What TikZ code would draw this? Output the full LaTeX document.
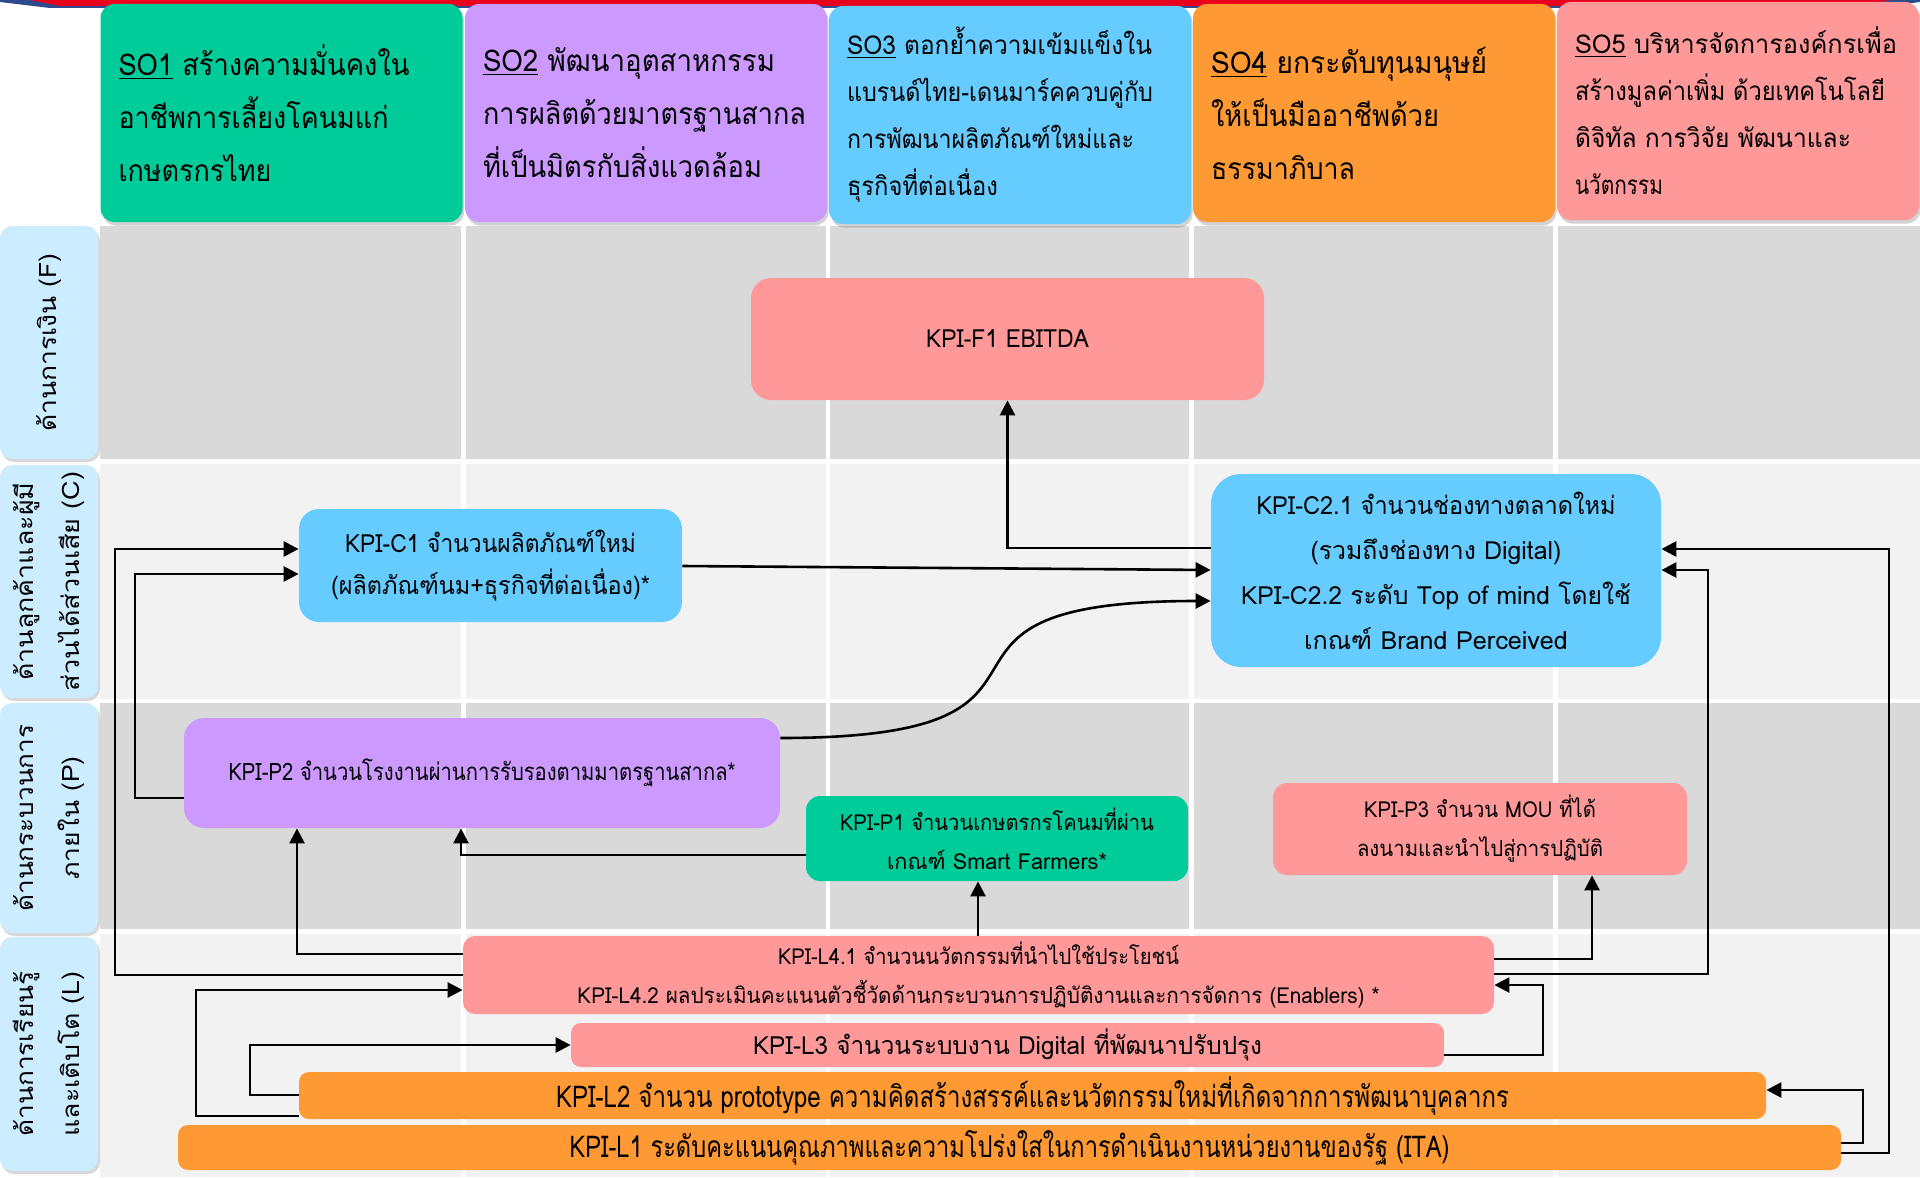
\documentclass[tikz,border=0pt]{standalone}
\usepackage{fontspec}
\setmainfont[Script=Thai]{Loma}
\usepackage{graphicx}
\usetikzlibrary{shadows,arrows.meta}
\newcommand\fitw[2]{\resizebox{#1pt}{\height}{#2}}
\definecolor{cgreen}{HTML}{00CC99}
\definecolor{cviolet}{HTML}{CC99FF}
\definecolor{cblue}{HTML}{66CCFF}
\definecolor{corange}{HTML}{FF9933}
\definecolor{cpink}{HTML}{FF9999}
\definecolor{clabel}{HTML}{CCECFF}
\definecolor{gdark}{HTML}{D9D9D9}
\definecolor{glight}{HTML}{F2F2F2}
\definecolor{barred}{HTML}{E8001C}
\definecolor{barblue}{HTML}{2E4A8C}
\begin{document}
\begin{tikzpicture}[x=0.5pt,y=-0.5pt,
  hdr/.style={rounded corners=7pt, minimum height=109pt, text width=163pt, align=left,
    inner xsep=9pt, inner ysep=0pt,
    drop shadow={shadow xshift=0.8pt, shadow yshift=-1.8pt, opacity=0.35}},
  hdrbig/.style={hdr, font=\fontsize{15}{26.5}\selectfont},
  hdrsmall/.style={hdr, font=\fontsize{13}{23.5}\selectfont},
  lbl/.style={fill=clabel, rounded corners=6pt, rotate=90, minimum height=49pt,
    inner sep=0pt, align=center, font=\fontsize{12}{23}\selectfont,
    drop shadow={shadow xshift=1pt, shadow yshift=-1.5pt, opacity=0.3}},
  kpibox/.style={inner sep=0pt, align=center},
  conn/.style={line width=1.3pt, -{Triangle[length=7.5pt,width=7.5pt]}},
]
\useasboundingbox (0,0) rectangle (1920,1177);
\fill[white] (0,0) rectangle (1920,1177);
% top bar
\fill[barblue] (0,0) -- (1920,0) -- (1920,2) -- (1870,8) -- (50,8) -- (0,2) -- cycle;
\fill[barred] (30,0) -- (1890,0) -- (1860,6) -- (60,6) -- cycle;
% grid
\foreach \ya/\yb/\c in {226/459/gdark, 464/699/glight, 703/929/gdark, 934/1177/glight} {
  \foreach \xa/\xb in {100/461, 466/826, 830/1189, 1194/1553, 1558/1920} {
    \fill[\c] (\xa,\ya) rectangle (\xb,\yb);
  }
}
% headers
\node[hdrbig, fill=cgreen] (SO1) at (281.5,113)
  {\fitw{145.5}{\underline{SO1} สร้างความมั่นคงใน}\\\fitw{135}{อาชีพการเลี้ยงโคนมแก่}\\\fitw{76.5}{เกษตรกรไทย}};
\node[hdrbig, fill=cviolet] (SO2) at (646,113)
  {\fitw{146}{\underline{SO2} พัฒนาอุตสาหกรรม}\\\fitw{161.5}{การผลิตด้วยมาตรฐานสากล}\\\fitw{139.5}{ที่เป็นมิตรกับสิ่งแวดล้อม}};
\node[hdrsmall, fill=cblue] (SO3) at (1010,115)
  {\fitw{152.5}{\underline{SO3} ตอกย้ำความเข้มแข็งใน}\\\fitw{153}{แบรนด์ไทย-เดนมาร์คควบคู่กับ}\\\fitw{143.5}{การพัฒนาผลิตภัณฑ์ใหม่และ}\\\fitw{75.5}{ธุรกิจที่ต่อเนื่อง}};
\node[hdrbig, fill=corange] (SO4) at (1374,113)
  {\fitw{138}{\underline{SO4} ยกระดับทุนมนุษย์}\\\fitw{114}{ให้เป็นมืออาชีพด้วย}\\\fitw{72}{ธรรมาภิบาล}};
\node[hdrsmall, fill=cpink] (SO5) at (1738,111)
  {\fitw{161}{\underline{SO5} บริหารจัดการองค์กรเพื่อ}\\\fitw{155}{สร้างมูลค่าเพิ่ม ด้วยเทคโนโลยี}\\\fitw{138}{ดิจิทัล การวิจัย พัฒนาและ}\\\fitw{44}{นวัตกรรม}};
% row labels
\node[lbl, minimum width=116.5pt] (RF) at (49,342.5) {\fitw{89}{ด้านการเงิน (F)}};
\node[lbl, minimum width=116.5pt] (RC) at (49,581.5) {\fitw{99}{ด้านลูกค้าและผู้มี}\\\fitw{110}{ส่วนได้ส่วนเสีย (C)}};
\node[lbl, minimum width=115pt] (RP) at (49,818) {\fitw{93.5}{ด้านกระบวนการ}\\\fitw{61.5}{ภายใน (P)}};
\node[lbl, minimum width=117pt] (RL) at (49,1054) {\fitw{82.5}{ด้านการเรียนรู้}\\\fitw{82.5}{และเติบโต (L)}};
% KPI nodes
\node[kpibox, fill=cpink, rounded corners=10pt, minimum width=256.5pt, minimum height=61pt,
  font=\fontsize{12.5}{20}\selectfont] (F1) at (1007.5,339) {\fitw{81.5}{KPI-F1 EBITDA}};
\node[kpibox, fill=cblue, rounded corners=10pt, minimum width=191.5pt, minimum height=56.5pt,
  font=\fontsize{12.5}{21}\selectfont] (C1) at (490.5,565.5)
  {\fitw{145.5}{KPI-C1 จำนวนผลิตภัณฑ์ใหม่}\\\fitw{159.5}{(ผลิตภัณฑ์นม+ธุรกิจที่ต่อเนื่อง)*}};
\node[kpibox, fill=cblue, rounded corners=15pt, minimum width=225pt, minimum height=96.5pt,
  font=\fontsize{12.5}{22.5}\selectfont] (C2) at (1436,570.5)
  {\fitw{179.5}{KPI-C2.1 จำนวนช่องทางตลาดใหม่}\\\fitw{125.5}{(รวมถึงช่องทาง Digital)}\\\fitw{195}{KPI-C2.2 ระดับ Top of mind โดยใช้}\\\fitw{132}{เกณฑ์ Brand Perceived}};
\node[kpibox, fill=cviolet, rounded corners=10pt, minimum width=298pt, minimum height=55pt,
  font=\fontsize{12}{20}\selectfont] (P2) at (482,773)
  {\fitw{253.5}{KPI-P2 จำนวนโรงงานผ่านการรับรองตามมาตรฐานสากล*}};
\node[kpibox, fill=cgreen, rounded corners=7pt, minimum width=191pt, minimum height=42.5pt,
  font=\fontsize{11}{19.5}\selectfont] (P1) at (997,838.5)
  {\fitw{157}{KPI-P1 จำนวนเกษตรกรโคนมที่ผ่าน}\\\fitw{110}{เกณฑ์ Smart Farmers*}};
\node[kpibox, fill=cpink, rounded corners=7pt, minimum width=207pt, minimum height=46pt,
  font=\fontsize{11}{19.5}\selectfont] (P3) at (1480,829)
  {\fitw{116}{KPI-P3 จำนวน MOU ที่ได้}\\\fitw{123}{ลงนามและนำไปสู่การปฏิบัติ}};
\node[kpibox, fill=cpink, rounded corners=6pt, minimum width=515.5pt, minimum height=39pt,
  font=\fontsize{11}{19.5}\selectfont] (L4) at (978.5,975)
  {\fitw{200.5}{KPI-L4.1 จำนวนนวัตกรรมที่นำไปใช้ประโยชน์}\\\fitw{401}{KPI-L4.2 ผลประเมินคะแนนตัวชี้วัดด้านกระบวนการปฏิบัติงานและการจัดการ (Enablers) *}};
\node[kpibox, fill=cpink, rounded corners=5pt, minimum width=436.5pt, minimum height=22pt,
  font=\fontsize{12.5}{20}\selectfont] (L3) at (1007.5,1045)
  {\fitw{254.5}{KPI-L3 จำนวนระบบงาน Digital ที่พัฒนาปรับปรุง}};
\node[kpibox, fill=corange, rounded corners=5pt, minimum width=733.5pt, minimum height=23.5pt,
  font=\fontsize{15}{20}\selectfont] (L2) at (1032.5,1095.5)
  {\fitw{476.5}{KPI-L2 จำนวน prototype ความคิดสร้างสรรค์และนวัตกรรมใหม่ที่เกิดจากการพัฒนาบุคลากร}};
\node[kpibox, fill=corange, rounded corners=5pt, minimum width=831.5pt, minimum height=22.5pt,
  font=\fontsize{15}{20}\selectfont] (L1) at (1009.5,1147.5)
  {\fitw{440}{KPI-L1 ระดับคะแนนคุณภาพและความโปร่งใสในการดำเนินงานหน่วยงานของรัฐ (ITA)}};
% connectors
\draw[conn] (C2.west |- 0,548) -| (F1.south);
\draw[conn] (C1.east |- 0,566) -- (C2.west |- 0,570);
\draw[conn] (P2.east |- 0,738) .. controls +(340,0) and +(-340,0) .. (C2.west |- 0,601);
\draw[conn] (L4.west |- 0,975) -| (115,549) -- (C1.west |- 0,549);
\draw[conn] (P2.west |- 0,798) -| (135,574) -- (C1.west |- 0,574);
\draw[conn] (L4.west |- 0,954) -| (297,0 |- P2.south);
\draw[conn] (P1.west |- 0,855) -| (461,0 |- P2.south);
\draw[conn] (978,0 |- L4.north) -- (978,0 |- P1.south);
\draw[conn] (L4.east |- 0,959) -| (1592,0 |- P3.south);
\draw[conn] (L4.east |- 0,974) -| (1708,570) -- (C2.east |- 0,570);
\draw[conn] (L1.east |- 0,1153) -| (1889,549) -- (C2.east |- 0,549);
\draw[conn] (L1.east |- 0,1143) -| (1863,1090) -- (L2.east |- 0,1090);
\draw[conn] (L3.east |- 0,1055) -| (1543,985) -- (L4.east |- 0,985);
\draw[conn] (L2.west |- 0,1116) -| (196,990) -- (L4.west |- 0,990);
\draw[conn] (L2.west |- 0,1095) -| (250,1045) -- (L3.west |- 0,1045);
\end{tikzpicture}
\end{document}
